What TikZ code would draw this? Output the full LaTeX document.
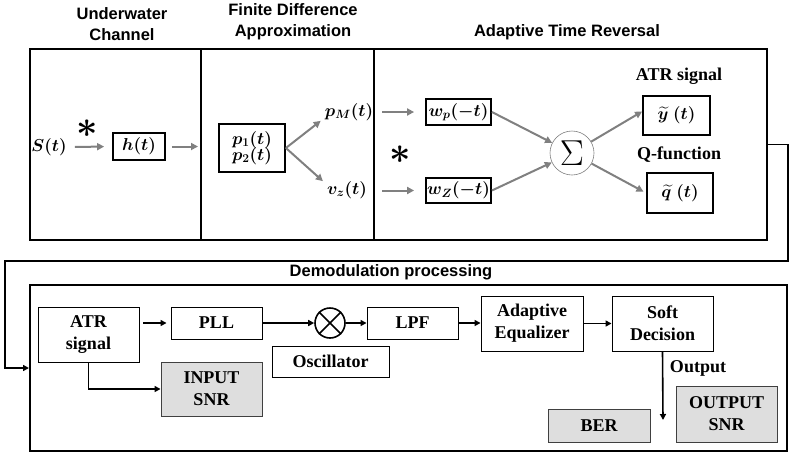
\documentclass[tikz,border=0pt]{standalone}
\usepackage{amsmath}
\usepackage{bm}
\usepackage{fontspec}
\setmainfont{Liberation Serif}
\newfontfamily\headfont{Liberation Sans}
\usetikzlibrary{arrows.meta,positioning,calc}

\definecolor{arrgray}{RGB}{128,128,128}
\definecolor{boxgray}{RGB}{222,222,222}

\newcommand{\bigstarsym}{\scalebox{1.5}{$\bm{\ast}$}}

\tikzset{
  frame/.style={draw, line width=2pt, inner sep=0pt},
  topbox/.style={draw, line width=1.8pt, inner sep=0pt, font=\fontsize{17}{20}\selectfont},
  lowbox/.style={draw, line width=0.9pt, inner sep=0pt, align=center, font=\bfseries\fontsize{18}{22}\selectfont},
  graybox/.style={lowbox, fill=boxgray, draw=black!75},
  headlbl/.style={align=center, font=\headfont\bfseries\fontsize{16.5}{21}\selectfont},
  mathlbl/.style={inner sep=2pt, font=\fontsize{17}{20}\selectfont},
  serlbl/.style={font=\bfseries\fontsize{18}{22}\selectfont},
  starlbl/.style={inner sep=0pt, font=\fontsize{24.88}{25}\selectfont},
  grayarr/.style={draw=arrgray, line width=2pt, -{Triangle[length=7pt,width=7pt]}, arrgray},
  blkarr/.style={line width=1.6pt, -{Triangle[length=6pt,width=6pt]}}
}

\begin{document}
\begin{tikzpicture}[x=1pt,y=-1pt]
\useasboundingbox (0,0) rectangle (792,456);

% upper stage
\node[frame, minimum width=737pt, minimum height=191pt] (topframe) at (398.5,144.5) {};
\draw[line width=2pt] (201,49) -- (201,240);
\draw[line width=2pt] (374,49) -- (374,240);

\node[headlbl] (chanhead) at (122,24) {Underwater\\Channel};
\node[headlbl] (fdhead) at (293,21.5) {Finite Difference\\Approximation};
\node[headlbl] (atrhead) at (567,32) {Adaptive Time Reversal};

\node[mathlbl] (src) at (49,147) {$\bm{S(t)}$};
\node[starlbl] (star1) at (87,129) {\bigstarsym};
\node[topbox, minimum width=52pt, minimum height=27pt] (hbox) at (139,146.5) {$\bm{h(t)}$};
\coordinate (hout) at (198,146.5);

\node[topbox, minimum width=66pt, minimum height=48pt, align=center] (pbox) at (252,148) {$\bm{p_1(t)}$\\[-4pt]$\bm{p_2(t)}$};
\node[mathlbl] (pm) at (349,112) {$\bm{p_M(t)}$};
\node[mathlbl] (vz) at (347,190) {$\bm{v_z(t)}$};

\coordinate (pmin) at (382,112);
\coordinate (vzin) at (382,190.5);
\node[starlbl] (star2) at (400,155) {\bigstarsym};
\node[topbox, minimum width=65pt, minimum height=26pt] (wp) at (458.5,112) {$\bm{w_p(-t)}$};
\node[topbox, minimum width=65pt, minimum height=25pt] (wz) at (458.5,190.5) {$\bm{w_Z(-t)}$};
\node[circle, draw=arrgray, line width=0.6pt, fill=white, minimum size=44pt, inner sep=0pt,
      font=\fontsize{24.88}{25}\selectfont] (sum) at (572,153) {\scalebox{1.45}{$\Sigma$}};

\node[serlbl] (ylbl) at (679,76) {ATR signal};
\node[topbox, minimum width=67pt, minimum height=39pt] (ybox) at (676.5,115.5) {$\widetilde{\bm{y}}\;\bm{(t)}$};
\node[serlbl] (qlbl) at (679,155) {Q-function};
\node[topbox, minimum width=66pt, minimum height=40pt] (qbox) at (680,193) {$\widetilde{\bm{q}}\;\bm{(t)}$};

\draw[grayarr, shorten <=6pt, shorten >=8pt] (src.east) -- (hbox.west);
\draw[grayarr, shorten <=6pt] (hbox.east) -- (hout);
\draw[grayarr] (pbox.east) -- ([shift={(-2,-2)}]pm.south west);
\draw[grayarr] (pbox.east) -- ([shift={(-2,2)}]vz.north west);
\draw[grayarr, shorten >=11pt] (pmin) -- (wp.west);
\draw[grayarr, shorten >=11pt] (vzin) -- (wz.west);
\draw[grayarr] (wp.east) -- (sum);
\draw[grayarr] (wz.east) -- (sum);
\draw[grayarr] (sum) -- ([yshift=4pt]ybox.west);
\draw[grayarr, shorten >=3pt] (sum) -- (qbox.west);

% lower stage
\node[frame, minimum width=757pt, minimum height=166pt] (lowframe) at (408.5,368) {};
\node[headlbl] (demhead) at (391,272) {Demodulation processing};
\draw[blkarr] (topframe.east) -- ++(20,0) |- (5,261) |- (lowframe.west);

\node[lowbox, minimum width=101pt, minimum height=55pt] (atrsig) at (88.5,334.5) {ATR\\signal};
\node[lowbox, minimum width=91pt, minimum height=32pt] (pll) at (216.5,323) {PLL};
\node[circle, draw, line width=1.6pt, minimum size=30pt, inner sep=0pt] (mult) at (330,323) {};
\draw[line width=1.6pt] (mult.north west) -- (mult.south east);
\draw[line width=1.6pt] (mult.north east) -- (mult.south west);
\node[lowbox, minimum width=117pt, minimum height=31pt] (osc) at (330.5,361.5) {Oscillator};
\node[lowbox, minimum width=91pt, minimum height=32pt] (lpf) at (412.5,323) {LPF};
\node[lowbox, minimum width=102pt, minimum height=55pt] (aeq) at (532,323.5) {Adaptive\\Equalizer};
\node[lowbox, minimum width=101pt, minimum height=55pt] (sdec) at (662.5,323.5) {Soft\\Decision};
\node[serlbl] (outlbl) at (698,368) {Output};
\coordinate (outtip) at (663,420);
\node[graybox, minimum width=101pt, minimum height=54pt] (insnr) at (211.5,389) {INPUT\\SNR};
\node[graybox, minimum width=102pt, minimum height=33pt] (ber) at (599,425.5) {BER};
\node[graybox, minimum width=101pt, minimum height=56pt] (outsnr) at (726.5,414) {OUTPUT\\SNR};

\draw[blkarr, shorten <=4pt, shorten >=4pt] (atrsig.east |- pll.west) -- (pll.west);
\draw[blkarr] (pll.east) -- (mult.west);
\draw[blkarr] (mult.east) -- (lpf.west);
\draw[blkarr] (lpf.east) -- (lpf.east -| aeq.west);
\draw[blkarr] (aeq.east) -- (sdec.west);
\draw[blkarr] (sdec.south) -- (outtip);
\draw[blkarr] (atrsig.south) |- (insnr.west);
\end{tikzpicture}
\end{document}
